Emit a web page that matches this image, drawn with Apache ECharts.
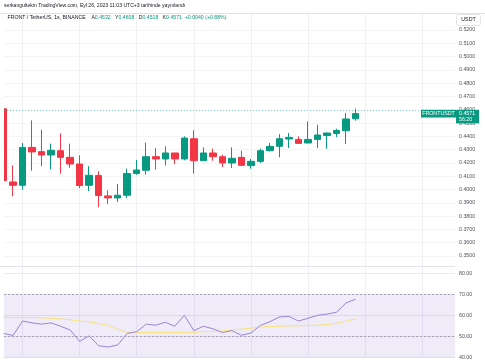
<!DOCTYPE html>
<html><head><meta charset="utf-8">
<script src="https://cdn.jsdelivr.net/npm/echarts@6/dist/echarts.min.js"></script>
<style>html,body{margin:0;padding:0;background:#fff}#c{width:485px;height:360px}</style>
</head><body><div id="c"></div>
<script>
// ---- data ----
const opens  = [0.4607,0.4057,0.4032,0.4317,0.4285,0.4260,0.4292,0.4242,0.4192,0.4032,0.4105,0.3952,0.3937,0.3957,0.4120,0.4145,0.4247,0.4230,0.4275,0.4230,0.4382,0.4217,0.4275,0.4247,0.4200,0.4242,0.4180,0.4212,0.4292,0.4325,0.4380,0.4377,0.4350,0.4377,0.4407,0.4422,0.4442,0.4532];
const closes = [0.4067,0.4032,0.4317,0.4283,0.4260,0.4295,0.4242,0.4192,0.4030,0.4107,0.3955,0.3937,0.3957,0.4120,0.4147,0.4247,0.4230,0.4275,0.4230,0.4387,0.4217,0.4275,0.4247,0.4200,0.4235,0.4182,0.4212,0.4292,0.4325,0.4382,0.4392,0.4347,0.4377,0.4410,0.4425,0.4445,0.4531,0.4571];
const lows   = [0.4060,0.3950,0.3999,0.4142,0.4175,0.4152,0.4120,0.4163,0.4010,0.3987,0.3867,0.3892,0.3907,0.3935,0.4112,0.4112,0.4150,0.4180,0.4192,0.4220,0.4120,0.4217,0.4217,0.4170,0.4162,0.4175,0.4157,0.4200,0.4287,0.4242,0.4312,0.4347,0.4350,0.4312,0.4307,0.4395,0.4342,0.4518];
const highs  = [0.4612,0.4182,0.4350,0.4520,0.4450,0.4345,0.4422,0.4345,0.4257,0.4175,0.4137,0.3994,0.4042,0.4157,0.4222,0.4352,0.4312,0.4325,0.4275,0.4400,0.4445,0.4317,0.4307,0.4262,0.4317,0.4292,0.4230,0.4307,0.4350,0.4417,0.4425,0.4400,0.4512,0.4487,0.4430,0.4457,0.4575,0.4608];
const rsi    = [51.5,50.5,57.4,56.5,55.9,56.5,54.9,53.1,47.7,50.3,45.6,45.0,46.0,51.5,52.3,55.9,55.4,56.8,54.9,60.1,52.8,54.9,53.7,51.9,52.8,50.6,51.7,55.3,57.1,59.3,59.6,57.4,58.7,60.1,60.7,61.6,66.0,67.8];
const rsiMA  = [59.1,59.1,59.1,59.1,58.9,58.7,58.4,58.0,57.4,57.0,56.2,55.3,53.4,52.0,51.9,51.9,51.9,51.9,51.9,52.0,52.0,52.3,52.4,52.6,53.1,53.5,54.0,54.5,54.8,54.9,55.1,55.1,55.3,55.4,55.7,56.3,57.3,58.5];
const priceTicks = [0.35,0.36,0.37,0.38,0.39,0.40,0.41,0.42,0.43,0.44,0.45,0.46,0.47,0.48,0.49,0.50,0.51,0.52];
const rsiTicks = [40,50,60,70,80];
const rsiLevels = [70,50];
const timeGridTicks = [2,8,14,20,26,32,38,44];
const headerText = 'serkangultekin TradingView.com, Eyl 26, 2023 11:03 UTC+3 tarihinde yayınlandı';
const symbolText = 'FRONT / TetherUS, 1s, BINANCE';
const ohlcText = ['A','0.4532','Y','0.4608','D','0.4518','K','0.4571','+0.0040 (+0.88%)'];
const symbolShort = 'FRONTUSDT';
const countdown = '56:20';
const currency = 'USDT';

// ---- layout ----
const UP = '#089981', DOWN = '#F23645';
const FONT = 'Liberation Sans, Arial, sans-serif';
const X_MIN = 0.05, X_MAX = 47.45;
const P_MIN = 0.34248, P_MAX = 0.53279;
const R_MIN = 39.91, R_MAX = 83.63;
const lastClose = closes[closes.length - 1];

const candleData = opens.map((o, i) => [i, o, closes[i], lows[i], highs[i]]);
const rsiData = rsi.map((v, i) => [i, v]);
const rsiMAData = rsiMA.map((v, i) => [i, v]);

const xBase = (gi) => ({
  type: 'value', gridIndex: gi, min: X_MIN, max: X_MAX,
  axisLine: {show: false}, axisLabel: {show: false},
  axisTick: {show: false, customValues: timeGridTicks},
  splitLine: {show: true, lineStyle: {color: '#eff0f4', width: 1}}
});

const chart = echarts.init(document.getElementById('c'), null, {renderer: 'canvas'});
chart.setOption({
  animation: false,
  backgroundColor: '#ffffff',
  textStyle: {fontFamily: FONT},
  grid: [
    {left: 4, right: 30, top: 13, height: 253},
    {left: 4, right: 30, top: 266, height: 94}
  ],
  xAxis: [xBase(0), xBase(1)],
  yAxis: [
    {type: 'value', gridIndex: 0, position: 'right', min: P_MIN, max: P_MAX, scale: true,
     axisLine: {show: false},
     axisTick: {show: false, customValues: priceTicks},
     axisLabel: {customValues: priceTicks, formatter: v => v.toFixed(4), color: '#50535e',
                 fontSize: 5.3, fontFamily: FONT, margin: 4, align: 'left'},
     splitLine: {show: true, lineStyle: {color: '#f3f4f7', width: 1}}},
    {type: 'value', gridIndex: 1, position: 'right', min: R_MIN, max: R_MAX,
     axisLine: {show: false},
     axisTick: {show: false, customValues: rsiTicks},
     axisLabel: {customValues: rsiTicks, formatter: v => v.toFixed(2), color: '#50535e',
                 fontSize: 5.3, fontFamily: FONT, margin: 4, align: 'left'},
     splitLine: {show: true, lineStyle: {color: '#ebe7f3', width: 1}}}
  ],
  series: [
    {type: 'candlestick', xAxisIndex: 0, yAxisIndex: 0, barWidth: 7,
     data: candleData, encode: {x: 0, y: [1, 2, 3, 4]},
     itemStyle: {color: UP, color0: DOWN, borderColor: UP, borderColor0: DOWN, borderWidth: 1},
     markLine: {symbol: 'none', silent: true, animation: false, label: {show: false},
       lineStyle: {color: UP, type: [1, 2], width: 1, opacity: 0.45},
       data: [{yAxis: lastClose}]}},
    {type: 'line', xAxisIndex: 1, yAxisIndex: 1, data: rsiData, showSymbol: false,
     lineStyle: {color: '#9c84d4', width: 1}, z: 4,
     markArea: {silent: true, itemStyle: {color: 'rgba(126,87,194,0.12)'},
       data: [[{yAxis: rsiLevels[0]}, {yAxis: R_MIN}]]},
     markLine: {symbol: 'none', silent: true, label: {show: false},
       lineStyle: {color: '#a5a1b4', type: [2, 2], width: 1},
       data: rsiLevels.map(v => ({yAxis: v}))}},
    {type: 'line', xAxisIndex: 1, yAxisIndex: 1, data: rsiMAData, showSymbol: false,
     lineStyle: {color: '#f7e27a', width: 1}, z: 3}
  ]
});

const yLast = chart.convertToPixel({xAxisIndex: 0, yAxisIndex: 0}, [0, lastClose])[1];
const richText = '{d|' + symbolText + '    ' + ohlcText[0] + '}{g|' + ohlcText[1] + '}{d|   ' + ohlcText[2] + '}{g|' + ohlcText[3] +
  '}{d|   ' + ohlcText[4] + '}{g|' + ohlcText[5] + '}{d|   ' + ohlcText[6] + '}{g|' + ohlcText[7] + '  ' + ohlcText[8] + '}';
chart.setOption({
  graphic: [
    {type: 'rect', shape: {x: 0, y: 14, width: 4, height: 252}, style: {fill: '#fff'}, z: 9},
    {type: 'line', shape: {x1: 0, y1: 13.5, x2: 485, y2: 13.5}, style: {stroke: '#e0e3eb', lineWidth: 1}, z: 10},
    {type: 'line', shape: {x1: 0, y1: 266.5, x2: 455, y2: 266.5}, style: {stroke: '#e0e3eb', lineWidth: 1}, z: 10},
    {type: 'text', left: 4, top: 3.5, style: {text: headerText, fill: '#131722', font: '5.1px ' + FONT}, z: 10},
    {type: 'text', left: 7.5, top: 15.5, z: 10, style: {
      text: richText,
      rich: {d: {fill: '#131722', font: '5.2px ' + FONT}, g: {fill: UP, font: '5.2px ' + FONT}}}},
    {type: 'rect', shape: {x: 456.5, y: 14.5, width: 24, height: 11, r: 2}, style: {fill: '#fff', stroke: '#e0e3eb', lineWidth: 1}, z: 10},
    {type: 'text', x: 468.5, y: 20, style: {text: currency, fill: '#131722', font: '5.3px ' + FONT, align: 'center', verticalAlign: 'middle'}, z: 11},
    {type: 'rect', shape: {x: 421, y: yLast - 3.8, width: 35, height: 7.6}, style: {fill: UP}, z: 10},
    {type: 'text', x: 438.5, y: yLast, style: {text: symbolShort, fill: '#fff', font: '5.3px ' + FONT, align: 'center', verticalAlign: 'middle'}, z: 11},
    {type: 'rect', shape: {x: 456, y: yLast - 3.8, width: 23, height: 13.6}, style: {fill: UP}, z: 10},
    {type: 'text', x: 459, y: yLast, style: {text: lastClose.toFixed(4), fill: '#fff', font: '5.3px ' + FONT, align: 'left', verticalAlign: 'middle'}, z: 11},
    {type: 'text', x: 459, y: yLast + 6.3, style: {text: countdown, fill: '#fff', font: '5.3px ' + FONT, align: 'left', verticalAlign: 'middle'}, z: 11}
  ]
});
</script></body></html>
